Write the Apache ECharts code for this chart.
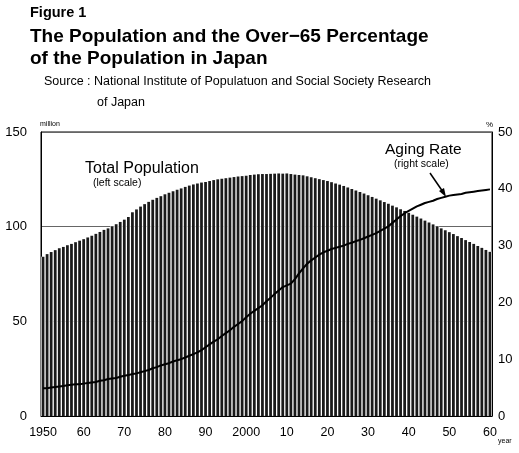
<!DOCTYPE html>
<html>
<head>
<meta charset="utf-8">
<script src="https://cdn.jsdelivr.net/npm/echarts@6/dist/echarts.min.js"></script>
<style>
  html, body { margin: 0; padding: 0; background: #fff; }
  #chart { width: 519px; height: 453px; }
</style>
</head>
<body>
<div id="chart"></div>
<script>
// years 1950 - 2060
var years = [];
for (var y = 1950; y <= 2060; y++) years.push(String(y));

// total population, million (left scale)
var population = [
  84.1, 85.5, 86.6, 87.6, 88.6, 89.3, 90.2, 90.9, 91.8, 92.6,
  93.4, 94.3, 95.2, 96.2, 97.2, 98.3, 99.1, 100.2, 101.3, 102.5,
  103.7, 105.1, 107.6, 109.1, 110.6, 111.9, 113.1, 114.2, 115.2, 116.1,
  117.1, 117.9, 118.7, 119.5, 120.2, 121.0, 121.7, 122.3, 122.8, 123.3,
  123.6, 124.1, 124.6, 125.0, 125.3, 125.6, 125.9, 126.2, 126.5, 126.7,
  126.9, 127.3, 127.5, 127.7, 127.8, 127.8, 127.9, 128.0, 128.1, 128.0,
  128.1, 127.8, 127.5, 127.3, 127.1, 126.6, 126.1, 125.6, 125.1, 124.6,
  124.1, 123.5, 122.8, 122.2, 121.5, 120.7, 119.9, 119.1, 118.3, 117.5,
  116.6, 115.7, 114.8, 113.9, 113.0, 112.1, 111.1, 110.2, 109.2, 108.3,
  107.3, 106.3, 105.3, 104.3, 103.2, 102.2, 101.2, 100.2, 99.1, 98.1,
  97.1, 96.1, 95.0, 94.0, 92.9, 91.9, 90.9, 89.8, 88.8, 87.7,
  86.7
];

// aging rate, % (right scale)
var agingRate = [
  4.9, 4.9, 5.0, 5.1, 5.2, 5.3, 5.4, 5.5, 5.6, 5.6,
  5.7, 5.8, 5.9, 6.0, 6.2, 6.3, 6.5, 6.6, 6.7, 6.9,
  7.1, 7.2, 7.4, 7.5, 7.7, 7.9, 8.1, 8.4, 8.6, 8.9,
  9.1, 9.3, 9.6, 9.8, 10.0, 10.3, 10.6, 10.9, 11.2, 11.6,
  12.1, 12.6, 13.1, 13.5, 14.1, 14.6, 15.1, 15.7, 16.2, 16.7,
  17.4, 18.0, 18.5, 19.0, 19.5, 20.2, 20.8, 21.5, 22.1, 22.7,
  23.0, 23.3, 24.1, 25.1, 26.0, 26.8, 27.4, 27.9, 28.4, 28.8,
  29.1, 29.4, 29.6, 29.8, 30.0, 30.3, 30.5, 30.8, 31.0, 31.3,
  31.6, 31.9, 32.2, 32.6, 33.0, 33.4, 34.0, 34.6, 35.2, 35.7,
  36.1, 36.5, 36.9, 37.2, 37.5, 37.7, 37.9, 38.2, 38.4, 38.6,
  38.8, 38.9, 39.0, 39.1, 39.3, 39.4, 39.5, 39.6, 39.7, 39.8,
  39.9
];

var font = '"Liberation Sans", Arial, sans-serif';
var chart = echarts.init(document.getElementById('chart'));

var option = {
  backgroundColor: '#fff',
  animation: false,
  textStyle: { fontFamily: font, color: '#000' },
  grid: {
    left: 41, right: 27, top: 132, bottom: 37,
    show: true, borderColor: '#000', borderWidth: 1
  },
  xAxis: [{
    type: 'category',
    data: years,
    boundaryGap: true,
    axisLine: { lineStyle: { color: '#000' } },
    axisTick: { show: false },
    axisLabel: {
      interval: 9,
      margin: 10,
      fontSize: 12.5,
      color: '#000',
      formatter: function (v) {
        return (v === '1950' || v === '2000') ? v : v.slice(2);
      }
    }
  }, {
    // hidden twin axis for the white backing behind the bars
    type: 'category',
    data: years,
    show: false
  }],
  yAxis: [{
    type: 'value',
    min: 0, max: 150, interval: 50,
    axisLine: { show: true, lineStyle: { color: '#000' } },
    axisTick: { show: false },
    axisLabel: { margin: 14, fontSize: 13, color: '#000' },
    splitLine: { show: true, lineStyle: { color: '#666', width: 1 } }
  }, {
    type: 'value',
    min: 0, max: 50, interval: 10,
    position: 'right',
    axisLine: { show: true, lineStyle: { color: '#000' } },
    axisTick: { show: false },
    axisLabel: { margin: 6, fontSize: 13, color: '#000' },
    splitLine: { show: false }
  }],
  series: [{
    type: 'bar',
    xAxisIndex: 1,
    data: population,
    barCategoryGap: '0%',
    itemStyle: { color: '#fff' },
    silent: true,
    z: 1
  }, {
    name: 'Total Population',
    type: 'bar',
    data: population,
    barCategoryGap: '32%',
    itemStyle: { color: '#1a1a1a' },
    z: 2
  }, {
    name: 'Aging Rate',
    type: 'line',
    yAxisIndex: 1,
    data: agingRate,
    showSymbol: false,
    lineStyle: { color: '#000', width: 2 },
    z: 5
  }],
  graphic: [
    { type: 'text', left: 30, top: 5,
      style: { text: 'Figure 1', font: 'bold 14.5px ' + font, fill: '#000' } },
    { type: 'text', left: 30, top: 27,
      style: { text: 'The Population and the Over\u221265 Percentage', font: 'bold 19px ' + font, fill: '#000' } },
    { type: 'text', left: 30, top: 49,
      style: { text: 'of the Population in Japan', font: 'bold 19px ' + font, fill: '#000' } },
    { type: 'text', left: 44, top: 75,
      style: { text: 'Source : National Institute of Populatuon and Social Society Research', font: '12.5px ' + font, fill: '#000' } },
    { type: 'text', left: 97, top: 96,
      style: { text: 'of Japan', font: '12.5px ' + font, fill: '#000' } },
    { type: 'text', left: 40, top: 121,
      style: { text: 'million', font: '7px ' + font, fill: '#000' } },
    { type: 'text', left: 486, top: 121,
      style: { text: '%', font: '8px ' + font, fill: '#000' } },
    { type: 'text', left: 498, top: 438,
      style: { text: 'year', font: '7px ' + font, fill: '#000' } },
    { type: 'text', left: 85, top: 161,
      style: { text: 'Total Population', font: '16px ' + font, fill: '#000' } },
    { type: 'text', left: 93, top: 178,
      style: { text: '(left scale)', font: '10.5px ' + font, fill: '#000' } },
    { type: 'text', left: 385, top: 142,
      style: { text: 'Aging Rate', font: '15.5px ' + font, fill: '#000' } },
    { type: 'text', left: 394, top: 159,
      style: { text: '(right scale)', font: '10.5px ' + font, fill: '#000' } },
    { type: 'line', z: 10,
      shape: { x1: 430, y1: 173, x2: 443, y2: 192 },
      style: { stroke: '#000', lineWidth: 1.5 } },
    { type: 'polygon', z: 10,
      shape: { points: [[446, 197], [439, 191], [444, 188]] },
      style: { fill: '#000' } }
  ]
};

chart.setOption(option);
</script>
</body>
</html>
